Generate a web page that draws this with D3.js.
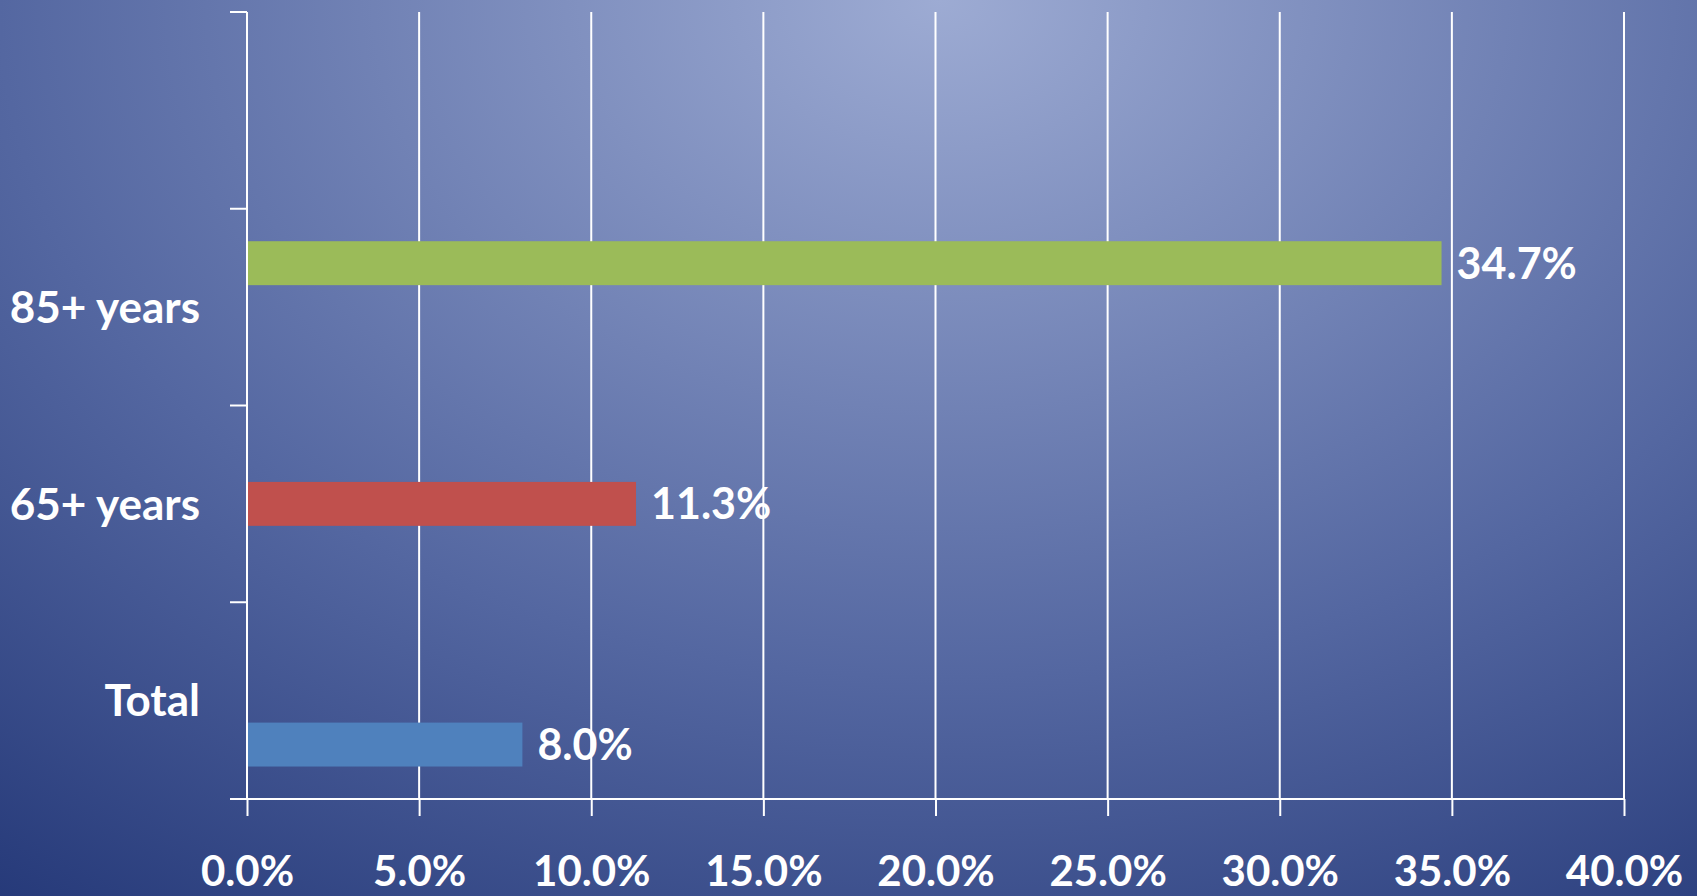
<!DOCTYPE html>
<html>
<head>
<meta charset="utf-8">
<script src="https://cdn.jsdelivr.net/npm/d3@7"></script>
<style>
  html, body { margin: 0; padding: 0; background: #1f3574; }
  svg { display: block; }
  text { font-family: Lato, "Open Sans", sans-serif; font-weight: 700; fill: #fff; }
</style>
</head>
<body>
<svg id="chart" width="1697" height="896"></svg>
<script>
// categories from top to bottom (first slot is empty in the original)
const categories = ['', '85+ years', '65+ years', 'Total'];
// series in cluster order, top to bottom within a band
const seriesOrder = ['85+ years', '65+ years', 'Total'];
const seriesNames = ['Total', '65+ years', '85+ years'];
const seriesValues = [8.0, 11.3, 34.7];
const seriesColors = ['#4f81bd', '#c0504d', '#9bbb59'];
const xTicks = [0, 5, 10, 15, 20, 25, 30, 35, 40];

const SVG = d3.select('#chart');
const W = +SVG.attr('width');
const H = +SVG.attr('height');

const bars = seriesNames.map((name, i) => ({ name: name, value: seriesValues[i], color: seriesColors[i] }));

// background gradient, light at the top centre
const defs = SVG.append('defs');
const grad = defs.append('radialGradient')
    .attr('id', 'bg')
    .attr('gradientUnits', 'userSpaceOnUse')
    .attr('cx', 940).attr('cy', 0).attr('r', 1710)
    .attr('gradientTransform', 'translate(940,0) scale(1,0.72) translate(-940,0)');
grad.append('stop').attr('offset', 0).attr('stop-color', '#9dabd3');
grad.append('stop').attr('offset', 0.55).attr('stop-color', '#5467a1');
grad.append('stop').attr('offset', 1).attr('stop-color', '#1b2f70');

SVG.append('rect').attr('width', W).attr('height', H).attr('fill', 'url(#bg)');

const x = d3.scaleLinear().domain([0, 40]).range([247, 1624]);
const y = d3.scaleBand().domain(categories).range([12, 799])
    .paddingInner(0.33).paddingOuter(0.165);
const yInner = d3.scaleBand().domain(seriesOrder).range([0, y.bandwidth()]);

const fmt = d => d3.format('.1f')(d) + '%';

// vertical grid lines
SVG.append('g')
    .selectAll('line')
    .data(xTicks.slice(1))
    .join('line')
    .attr('x1', d => x(d)).attr('x2', d => x(d))
    .attr('y1', y.range()[0]).attr('y2', y.range()[1])
    .attr('stroke', '#fff')
    .attr('stroke-width', 2);

// bars, each series sits in its own category
SVG.append('g')
    .selectAll('rect')
    .data(bars)
    .join('rect')
    .attr('x', x(0))
    .attr('y', d => y(d.name) + yInner(d.name))
    .attr('width', d => x(d.value) - x(0))
    .attr('height', yInner.bandwidth())
    .attr('fill', d => d.color);

// value labels
SVG.append('g')
    .selectAll('text')
    .data(bars)
    .join('text')
    .attr('x', d => x(d.value) + 15)
    .attr('y', d => y(d.name) + yInner(d.name) + yInner.bandwidth() / 2)
    .attr('dy', '0.36em')
    .style('font-size', '43px')
    .text(d => fmt(d.value));

// x axis
const xAxis = SVG.append('g')
    .attr('transform', `translate(0,${y.range()[1]})`)
    .call(d3.axisBottom(x).tickValues(xTicks).tickFormat(fmt)
        .tickSizeInner(17).tickSizeOuter(0).tickPadding(40));
xAxis.select('.domain').attr('stroke', '#fff').attr('stroke-width', 2)
    .attr('d', `M${x(0) - 17},0H${x(40)}`);
xAxis.selectAll('.tick line').attr('stroke', '#fff').attr('stroke-width', 2);
xAxis.selectAll('.tick text')
    .attr('fill', '#fff')
    .style('font-family', 'Lato, sans-serif')
    .style('font-weight', 700)
    .style('font-size', '42px');

// y axis: line plus ticks at band boundaries
const yAxis = SVG.append('g');
yAxis.append('line')
    .attr('x1', x(0)).attr('x2', x(0))
    .attr('y1', y.range()[0]).attr('y2', y.range()[1])
    .attr('stroke', '#fff').attr('stroke-width', 2);
yAxis.selectAll('line.tick')
    .data(d3.range(categories.length + 1))
    .join('line')
    .attr('class', 'tick')
    .attr('x1', x(0) - 17).attr('x2', x(0))
    .attr('y1', i => y.range()[0] + i * y.step())
    .attr('y2', i => y.range()[0] + i * y.step())
    .attr('stroke', '#fff').attr('stroke-width', 2);
yAxis.selectAll('text')
    .data(categories.filter(c => c))
    .join('text')
    .attr('x', x(0) - 47)
    .attr('y', d => y(d) + y.bandwidth() / 2)
    .attr('dy', '0.36em')
    .attr('text-anchor', 'end')
    .style('font-size', '44px')
    .text(d => d);
</script>
</body>
</html>
